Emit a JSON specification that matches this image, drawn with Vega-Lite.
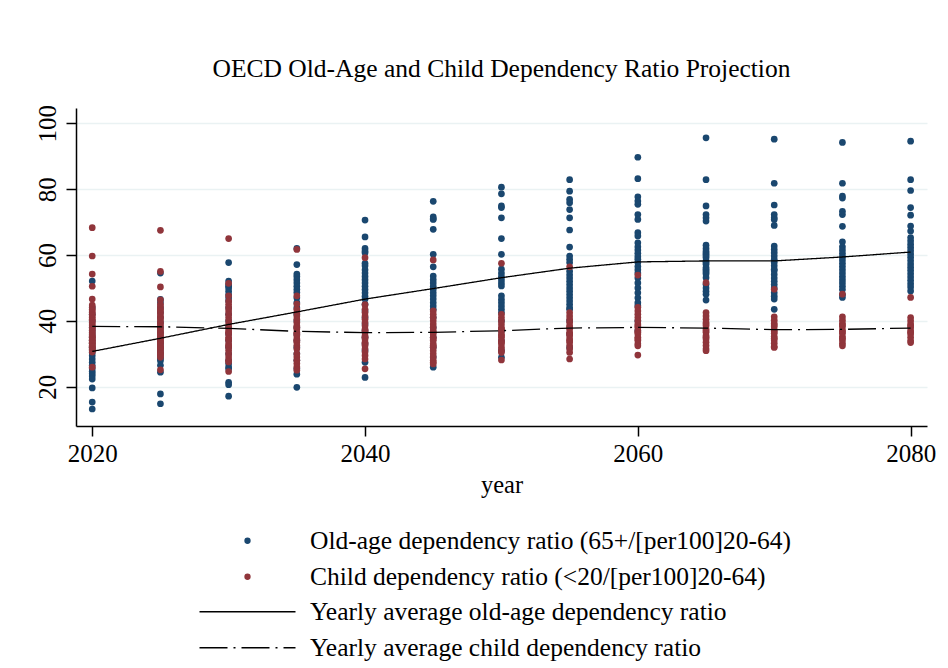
{
"$schema":"https://vega.github.io/schema/vega-lite/v6.json",
"width":851,"height":318,
"autosize":{"type":"none"},
"padding":{"left":76,"top":108,"right":21,"bottom":242},
"background":"white",
"title":{"text":"OECD Old-Age and Child Dependency Ratio Projection","font":"Liberation Serif","fontSize":25.5,"fontWeight":"normal","color":"black","anchor":"middle","baseline":"alphabetic","offset":2},
"config":{"view":{"stroke":null},"font":"Liberation Serif","axis":{"labelFont":"Liberation Serif","titleFont":"Liberation Serif"},"legend":{"labelFont":"Liberation Serif"}},
"datasets":{
"pts":[
{"year":2020,"s":"o","v":52.1},{"year":2020,"s":"o","v":44},{"year":2020,"s":"o","v":42},{"year":2020,"s":"o","v":40},{"year":2020,"s":"o","v":38},{"year":2020,"s":"o","v":37},{"year":2020,"s":"o","v":36},{"year":2020,"s":"o","v":35},{"year":2020,"s":"o","v":34},{"year":2020,"s":"o","v":33},{"year":2020,"s":"o","v":32},{"year":2020,"s":"o","v":31.4},{"year":2020,"s":"o","v":30.4},{"year":2020,"s":"o","v":29.4},{"year":2020,"s":"o","v":28.4},{"year":2020,"s":"o","v":27.4},{"year":2020,"s":"o","v":26.4},{"year":2020,"s":"o","v":25.4},{"year":2020,"s":"o","v":24.6},{"year":2020,"s":"o","v":23.9},{"year":2020,"s":"o","v":23.2},{"year":2020,"s":"o","v":22.3},{"year":2020,"s":"o","v":19.6},{"year":2020,"s":"o","v":15.3},{"year":2020,"s":"o","v":13.2},
{"year":2025,"s":"o","v":54.5},{"year":2025,"s":"o","v":46.5},{"year":2025,"s":"o","v":45.5},{"year":2025,"s":"o","v":44},{"year":2025,"s":"o","v":42.5},{"year":2025,"s":"o","v":41},{"year":2025,"s":"o","v":39.5},{"year":2025,"s":"o","v":38},{"year":2025,"s":"o","v":36.5},{"year":2025,"s":"o","v":35},{"year":2025,"s":"o","v":33.5},{"year":2025,"s":"o","v":33},{"year":2025,"s":"o","v":32},{"year":2025,"s":"o","v":31.5},{"year":2025,"s":"o","v":30.5},{"year":2025,"s":"o","v":30},{"year":2025,"s":"o","v":29},{"year":2025,"s":"o","v":28.5},{"year":2025,"s":"o","v":27.9},{"year":2025,"s":"o","v":26.5},{"year":2025,"s":"o","v":24.4},{"year":2025,"s":"o","v":17.8},{"year":2025,"s":"o","v":14.8},
{"year":2030,"s":"o","v":57.7},{"year":2030,"s":"o","v":52.1},{"year":2030,"s":"o","v":51},{"year":2030,"s":"o","v":50.5},{"year":2030,"s":"o","v":50},{"year":2030,"s":"o","v":49},{"year":2030,"s":"o","v":48},{"year":2030,"s":"o","v":47},{"year":2030,"s":"o","v":46},{"year":2030,"s":"o","v":44},{"year":2030,"s":"o","v":42},{"year":2030,"s":"o","v":40},{"year":2030,"s":"o","v":38},{"year":2030,"s":"o","v":36},{"year":2030,"s":"o","v":34},{"year":2030,"s":"o","v":32},{"year":2030,"s":"o","v":30},{"year":2030,"s":"o","v":28},{"year":2030,"s":"o","v":27},{"year":2030,"s":"o","v":26},{"year":2030,"s":"o","v":25.4},{"year":2030,"s":"o","v":21.3},{"year":2030,"s":"o","v":20.6},{"year":2030,"s":"o","v":17.1},
{"year":2035,"s":"o","v":62},{"year":2035,"s":"o","v":57.1},{"year":2035,"s":"o","v":54.2},{"year":2035,"s":"o","v":53.5},{"year":2035,"s":"o","v":52.5},{"year":2035,"s":"o","v":51.5},{"year":2035,"s":"o","v":50.5},{"year":2035,"s":"o","v":49.5},{"year":2035,"s":"o","v":48.6},{"year":2035,"s":"o","v":47},{"year":2035,"s":"o","v":45.5},{"year":2035,"s":"o","v":44},{"year":2035,"s":"o","v":42},{"year":2035,"s":"o","v":40},{"year":2035,"s":"o","v":38},{"year":2035,"s":"o","v":36},{"year":2035,"s":"o","v":34},{"year":2035,"s":"o","v":32},{"year":2035,"s":"o","v":30},{"year":2035,"s":"o","v":28},{"year":2035,"s":"o","v":25.5},{"year":2035,"s":"o","v":23.8},{"year":2035,"s":"o","v":19.8},
{"year":2040,"s":"o","v":70.6},{"year":2040,"s":"o","v":65.5},{"year":2040,"s":"o","v":62},{"year":2040,"s":"o","v":61.2},{"year":2040,"s":"o","v":60.7},{"year":2040,"s":"o","v":57.5},{"year":2040,"s":"o","v":56.7},{"year":2040,"s":"o","v":55.5},{"year":2040,"s":"o","v":54.5},{"year":2040,"s":"o","v":53.5},{"year":2040,"s":"o","v":52.5},{"year":2040,"s":"o","v":51.5},{"year":2040,"s":"o","v":50.5},{"year":2040,"s":"o","v":49.5},{"year":2040,"s":"o","v":48.5},{"year":2040,"s":"o","v":47.5},{"year":2040,"s":"o","v":46.6},{"year":2040,"s":"o","v":45},{"year":2040,"s":"o","v":43},{"year":2040,"s":"o","v":41},{"year":2040,"s":"o","v":39},{"year":2040,"s":"o","v":37},{"year":2040,"s":"o","v":35},{"year":2040,"s":"o","v":33},{"year":2040,"s":"o","v":31},{"year":2040,"s":"o","v":27.4},{"year":2040,"s":"o","v":22.8},
{"year":2045,"s":"o","v":76.3},{"year":2045,"s":"o","v":71.6},{"year":2045,"s":"o","v":71},{"year":2045,"s":"o","v":70.8},{"year":2045,"s":"o","v":67.8},{"year":2045,"s":"o","v":60.2},{"year":2045,"s":"o","v":56.4},{"year":2045,"s":"o","v":53.6},{"year":2045,"s":"o","v":52.5},{"year":2045,"s":"o","v":51.5},{"year":2045,"s":"o","v":50.5},{"year":2045,"s":"o","v":49.5},{"year":2045,"s":"o","v":48.5},{"year":2045,"s":"o","v":47.6},{"year":2045,"s":"o","v":46.6},{"year":2045,"s":"o","v":45.5},{"year":2045,"s":"o","v":44.5},{"year":2045,"s":"o","v":43.5},{"year":2045,"s":"o","v":41},{"year":2045,"s":"o","v":38},{"year":2045,"s":"o","v":35},{"year":2045,"s":"o","v":32},{"year":2045,"s":"o","v":29},{"year":2045,"s":"o","v":25.9},
{"year":2050,"s":"o","v":80.6},{"year":2050,"s":"o","v":78.6},{"year":2050,"s":"o","v":74.9},{"year":2050,"s":"o","v":74.4},{"year":2050,"s":"o","v":71.3},{"year":2050,"s":"o","v":65},{"year":2050,"s":"o","v":60.2},{"year":2050,"s":"o","v":55.7},{"year":2050,"s":"o","v":54.5},{"year":2050,"s":"o","v":53.5},{"year":2050,"s":"o","v":52.5},{"year":2050,"s":"o","v":51.5},{"year":2050,"s":"o","v":50.6},{"year":2050,"s":"o","v":47.6},{"year":2050,"s":"o","v":46.5},{"year":2050,"s":"o","v":45.5},{"year":2050,"s":"o","v":44.5},{"year":2050,"s":"o","v":43.5},{"year":2050,"s":"o","v":42.5},{"year":2050,"s":"o","v":40},{"year":2050,"s":"o","v":37},{"year":2050,"s":"o","v":34},{"year":2050,"s":"o","v":31},{"year":2050,"s":"o","v":28.9},
{"year":2055,"s":"o","v":82.9},{"year":2055,"s":"o","v":79.4},{"year":2055,"s":"o","v":76.9},{"year":2055,"s":"o","v":75.9},{"year":2055,"s":"o","v":73.8},{"year":2055,"s":"o","v":71.3},{"year":2055,"s":"o","v":67.6},{"year":2055,"s":"o","v":62.4},{"year":2055,"s":"o","v":59.7},{"year":2055,"s":"o","v":58.7},{"year":2055,"s":"o","v":57.7},{"year":2055,"s":"o","v":55.1},{"year":2055,"s":"o","v":54},{"year":2055,"s":"o","v":53},{"year":2055,"s":"o","v":52},{"year":2055,"s":"o","v":51},{"year":2055,"s":"o","v":50},{"year":2055,"s":"o","v":49},{"year":2055,"s":"o","v":48},{"year":2055,"s":"o","v":47},{"year":2055,"s":"o","v":46},{"year":2055,"s":"o","v":45},{"year":2055,"s":"o","v":44},{"year":2055,"s":"o","v":43.5},{"year":2055,"s":"o","v":40},{"year":2055,"s":"o","v":36},{"year":2055,"s":"o","v":31.9},
{"year":2060,"s":"o","v":89.7},{"year":2060,"s":"o","v":83.2},{"year":2060,"s":"o","v":77.7},{"year":2060,"s":"o","v":76.4},{"year":2060,"s":"o","v":75.4},{"year":2060,"s":"o","v":72.3},{"year":2060,"s":"o","v":70.8},{"year":2060,"s":"o","v":66.8},{"year":2060,"s":"o","v":65.8},{"year":2060,"s":"o","v":63.7},{"year":2060,"s":"o","v":62.5},{"year":2060,"s":"o","v":61.5},{"year":2060,"s":"o","v":60.5},{"year":2060,"s":"o","v":59.5},{"year":2060,"s":"o","v":58.7},{"year":2060,"s":"o","v":57.7},{"year":2060,"s":"o","v":56.5},{"year":2060,"s":"o","v":55.5},{"year":2060,"s":"o","v":54.5},{"year":2060,"s":"o","v":53},{"year":2060,"s":"o","v":51.5},{"year":2060,"s":"o","v":50},{"year":2060,"s":"o","v":48.5},{"year":2060,"s":"o","v":47},{"year":2060,"s":"o","v":45.5},{"year":2060,"s":"o","v":44.6},{"year":2060,"s":"o","v":40},{"year":2060,"s":"o","v":37},
{"year":2065,"s":"o","v":95.6},{"year":2065,"s":"o","v":82.9},{"year":2065,"s":"o","v":74.9},{"year":2065,"s":"o","v":72.3},{"year":2065,"s":"o","v":71.3},{"year":2065,"s":"o","v":70.3},{"year":2065,"s":"o","v":63},{"year":2065,"s":"o","v":62},{"year":2065,"s":"o","v":61.2},{"year":2065,"s":"o","v":60.7},{"year":2065,"s":"o","v":60.2},{"year":2065,"s":"o","v":59.7},{"year":2065,"s":"o","v":59.2},{"year":2065,"s":"o","v":58.2},{"year":2065,"s":"o","v":57.7},{"year":2065,"s":"o","v":57.2},{"year":2065,"s":"o","v":56.2},{"year":2065,"s":"o","v":55.7},{"year":2065,"s":"o","v":55.2},{"year":2065,"s":"o","v":54.7},{"year":2065,"s":"o","v":54.2},{"year":2065,"s":"o","v":53.1},{"year":2065,"s":"o","v":51.1},{"year":2065,"s":"o","v":50},{"year":2065,"s":"o","v":49},{"year":2065,"s":"o","v":48.1},{"year":2065,"s":"o","v":46.3},
{"year":2070,"s":"o","v":95.2},{"year":2070,"s":"o","v":81.8},{"year":2070,"s":"o","v":75.2},{"year":2070,"s":"o","v":72.3},{"year":2070,"s":"o","v":71.3},{"year":2070,"s":"o","v":70.8},{"year":2070,"s":"o","v":69},{"year":2070,"s":"o","v":62.7},{"year":2070,"s":"o","v":61.7},{"year":2070,"s":"o","v":60.7},{"year":2070,"s":"o","v":59.7},{"year":2070,"s":"o","v":58.7},{"year":2070,"s":"o","v":57.7},{"year":2070,"s":"o","v":56.7},{"year":2070,"s":"o","v":55.7},{"year":2070,"s":"o","v":55.2},{"year":2070,"s":"o","v":54.1},{"year":2070,"s":"o","v":53},{"year":2070,"s":"o","v":52},{"year":2070,"s":"o","v":51},{"year":2070,"s":"o","v":50},{"year":2070,"s":"o","v":48.5},{"year":2070,"s":"o","v":47.5},{"year":2070,"s":"o","v":46.6},{"year":2070,"s":"o","v":43.5},
{"year":2075,"s":"o","v":94.2},{"year":2075,"s":"o","v":81.8},{"year":2075,"s":"o","v":77.9},{"year":2075,"s":"o","v":77.3},{"year":2075,"s":"o","v":73.3},{"year":2075,"s":"o","v":72.3},{"year":2075,"s":"o","v":68.7},{"year":2075,"s":"o","v":64},{"year":2075,"s":"o","v":62.5},{"year":2075,"s":"o","v":61.5},{"year":2075,"s":"o","v":60.5},{"year":2075,"s":"o","v":59.5},{"year":2075,"s":"o","v":58.5},{"year":2075,"s":"o","v":57.5},{"year":2075,"s":"o","v":56.5},{"year":2075,"s":"o","v":55.5},{"year":2075,"s":"o","v":54.5},{"year":2075,"s":"o","v":53.5},{"year":2075,"s":"o","v":52.5},{"year":2075,"s":"o","v":51.5},{"year":2075,"s":"o","v":50.5},{"year":2075,"s":"o","v":49.5},{"year":2075,"s":"o","v":48},{"year":2075,"s":"o","v":47.1},
{"year":2080,"s":"o","v":94.6},{"year":2080,"s":"o","v":82.9},{"year":2080,"s":"o","v":79.6},{"year":2080,"s":"o","v":74.4},{"year":2080,"s":"o","v":72.1},{"year":2080,"s":"o","v":68.8},{"year":2080,"s":"o","v":67.3},{"year":2080,"s":"o","v":65.3},{"year":2080,"s":"o","v":64.3},{"year":2080,"s":"o","v":63.3},{"year":2080,"s":"o","v":62.3},{"year":2080,"s":"o","v":61.3},{"year":2080,"s":"o","v":60.3},{"year":2080,"s":"o","v":59.3},{"year":2080,"s":"o","v":58.3},{"year":2080,"s":"o","v":57.3},{"year":2080,"s":"o","v":56.3},{"year":2080,"s":"o","v":55.3},{"year":2080,"s":"o","v":54.3},{"year":2080,"s":"o","v":53.3},{"year":2080,"s":"o","v":52.3},{"year":2080,"s":"o","v":51.3},{"year":2080,"s":"o","v":50.3},{"year":2080,"s":"o","v":49.1},
{"year":2020,"s":"c","v":68.3},{"year":2020,"s":"c","v":59.7},{"year":2020,"s":"c","v":54.2},{"year":2020,"s":"c","v":50.5},{"year":2020,"s":"c","v":46.6},{"year":2020,"s":"c","v":44.8},{"year":2020,"s":"c","v":44.2},{"year":2020,"s":"c","v":43.5},{"year":2020,"s":"c","v":43},{"year":2020,"s":"c","v":42.5},{"year":2020,"s":"c","v":42},{"year":2020,"s":"c","v":41.5},{"year":2020,"s":"c","v":41},{"year":2020,"s":"c","v":40.5},{"year":2020,"s":"c","v":40},{"year":2020,"s":"c","v":39.5},{"year":2020,"s":"c","v":39},{"year":2020,"s":"c","v":38.5},{"year":2020,"s":"c","v":38},{"year":2020,"s":"c","v":37.5},{"year":2020,"s":"c","v":37},{"year":2020,"s":"c","v":36.5},{"year":2020,"s":"c","v":36},{"year":2020,"s":"c","v":35.5},{"year":2020,"s":"c","v":35.2},{"year":2020,"s":"c","v":35},{"year":2020,"s":"c","v":34.5},{"year":2020,"s":"c","v":34.2},{"year":2020,"s":"c","v":34},{"year":2020,"s":"c","v":33.5},{"year":2020,"s":"c","v":33.2},{"year":2020,"s":"c","v":33},{"year":2020,"s":"c","v":32.5},{"year":2020,"s":"c","v":32.2},{"year":2020,"s":"c","v":32},{"year":2020,"s":"c","v":31.5},{"year":2020,"s":"c","v":31.2},{"year":2020,"s":"c","v":31},{"year":2020,"s":"c","v":30.5},{"year":2020,"s":"c","v":25.9},
{"year":2025,"s":"c","v":67.5},{"year":2025,"s":"c","v":55},{"year":2025,"s":"c","v":50.3},{"year":2025,"s":"c","v":46.4},{"year":2025,"s":"c","v":45},{"year":2025,"s":"c","v":44.3},{"year":2025,"s":"c","v":43.5},{"year":2025,"s":"c","v":43},{"year":2025,"s":"c","v":42.3},{"year":2025,"s":"c","v":41.5},{"year":2025,"s":"c","v":41},{"year":2025,"s":"c","v":40.3},{"year":2025,"s":"c","v":39.5},{"year":2025,"s":"c","v":39},{"year":2025,"s":"c","v":38.3},{"year":2025,"s":"c","v":37.5},{"year":2025,"s":"c","v":37},{"year":2025,"s":"c","v":36.3},{"year":2025,"s":"c","v":36},{"year":2025,"s":"c","v":35.5},{"year":2025,"s":"c","v":35},{"year":2025,"s":"c","v":34.3},{"year":2025,"s":"c","v":34},{"year":2025,"s":"c","v":33.5},{"year":2025,"s":"c","v":33},{"year":2025,"s":"c","v":32.3},{"year":2025,"s":"c","v":32},{"year":2025,"s":"c","v":31.5},{"year":2025,"s":"c","v":31},{"year":2025,"s":"c","v":30.3},{"year":2025,"s":"c","v":30},{"year":2025,"s":"c","v":29.5},{"year":2025,"s":"c","v":28.9},{"year":2025,"s":"c","v":25.1},
{"year":2030,"s":"c","v":65},{"year":2030,"s":"c","v":51.4},{"year":2030,"s":"c","v":47.6},{"year":2030,"s":"c","v":46},{"year":2030,"s":"c","v":45},{"year":2030,"s":"c","v":44},{"year":2030,"s":"c","v":43},{"year":2030,"s":"c","v":42},{"year":2030,"s":"c","v":41},{"year":2030,"s":"c","v":40},{"year":2030,"s":"c","v":39},{"year":2030,"s":"c","v":38},{"year":2030,"s":"c","v":37},{"year":2030,"s":"c","v":36.5},{"year":2030,"s":"c","v":36},{"year":2030,"s":"c","v":35},{"year":2030,"s":"c","v":34.5},{"year":2030,"s":"c","v":34},{"year":2030,"s":"c","v":33},{"year":2030,"s":"c","v":32.5},{"year":2030,"s":"c","v":32},{"year":2030,"s":"c","v":31},{"year":2030,"s":"c","v":30},{"year":2030,"s":"c","v":29},{"year":2030,"s":"c","v":28},{"year":2030,"s":"c","v":27.5},{"year":2030,"s":"c","v":24.6},
{"year":2035,"s":"c","v":61.7},{"year":2035,"s":"c","v":47.6},{"year":2035,"s":"c","v":45.1},{"year":2035,"s":"c","v":43.5},{"year":2035,"s":"c","v":42.5},{"year":2035,"s":"c","v":41.5},{"year":2035,"s":"c","v":40.5},{"year":2035,"s":"c","v":39.5},{"year":2035,"s":"c","v":38.5},{"year":2035,"s":"c","v":38},{"year":2035,"s":"c","v":37.5},{"year":2035,"s":"c","v":36.5},{"year":2035,"s":"c","v":36},{"year":2035,"s":"c","v":35.5},{"year":2035,"s":"c","v":34.5},{"year":2035,"s":"c","v":34},{"year":2035,"s":"c","v":33.5},{"year":2035,"s":"c","v":32.5},{"year":2035,"s":"c","v":31.5},{"year":2035,"s":"c","v":30},{"year":2035,"s":"c","v":29},{"year":2035,"s":"c","v":28},{"year":2035,"s":"c","v":27},{"year":2035,"s":"c","v":26},{"year":2035,"s":"c","v":25},
{"year":2040,"s":"c","v":59.2},{"year":2040,"s":"c","v":44.9},{"year":2040,"s":"c","v":43.5},{"year":2040,"s":"c","v":42.5},{"year":2040,"s":"c","v":41.5},{"year":2040,"s":"c","v":40.5},{"year":2040,"s":"c","v":39.5},{"year":2040,"s":"c","v":38.5},{"year":2040,"s":"c","v":37.5},{"year":2040,"s":"c","v":37},{"year":2040,"s":"c","v":36.5},{"year":2040,"s":"c","v":35.5},{"year":2040,"s":"c","v":35},{"year":2040,"s":"c","v":34.5},{"year":2040,"s":"c","v":33.5},{"year":2040,"s":"c","v":33},{"year":2040,"s":"c","v":32.5},{"year":2040,"s":"c","v":31.5},{"year":2040,"s":"c","v":30.5},{"year":2040,"s":"c","v":29.5},{"year":2040,"s":"c","v":28.4},{"year":2040,"s":"c","v":25.4},
{"year":2045,"s":"c","v":58.5},{"year":2045,"s":"c","v":43},{"year":2045,"s":"c","v":42},{"year":2045,"s":"c","v":41},{"year":2045,"s":"c","v":40},{"year":2045,"s":"c","v":39},{"year":2045,"s":"c","v":38},{"year":2045,"s":"c","v":37},{"year":2045,"s":"c","v":36.5},{"year":2045,"s":"c","v":36},{"year":2045,"s":"c","v":35},{"year":2045,"s":"c","v":34.5},{"year":2045,"s":"c","v":34},{"year":2045,"s":"c","v":33},{"year":2045,"s":"c","v":32.5},{"year":2045,"s":"c","v":32},{"year":2045,"s":"c","v":31},{"year":2045,"s":"c","v":30},{"year":2045,"s":"c","v":29},{"year":2045,"s":"c","v":28},{"year":2045,"s":"c","v":27.4},{"year":2045,"s":"c","v":26.9},
{"year":2050,"s":"c","v":57.5},{"year":2050,"s":"c","v":42},{"year":2050,"s":"c","v":41},{"year":2050,"s":"c","v":40},{"year":2050,"s":"c","v":39},{"year":2050,"s":"c","v":38},{"year":2050,"s":"c","v":37.5},{"year":2050,"s":"c","v":37},{"year":2050,"s":"c","v":36},{"year":2050,"s":"c","v":35.5},{"year":2050,"s":"c","v":35},{"year":2050,"s":"c","v":34},{"year":2050,"s":"c","v":33.5},{"year":2050,"s":"c","v":33},{"year":2050,"s":"c","v":32},{"year":2050,"s":"c","v":31},{"year":2050,"s":"c","v":30.4},{"year":2050,"s":"c","v":28.1},
{"year":2055,"s":"c","v":56.4},{"year":2055,"s":"c","v":42.5},{"year":2055,"s":"c","v":41.5},{"year":2055,"s":"c","v":40.5},{"year":2055,"s":"c","v":39.5},{"year":2055,"s":"c","v":38.5},{"year":2055,"s":"c","v":38},{"year":2055,"s":"c","v":37.5},{"year":2055,"s":"c","v":36.5},{"year":2055,"s":"c","v":36},{"year":2055,"s":"c","v":35.5},{"year":2055,"s":"c","v":34.5},{"year":2055,"s":"c","v":34},{"year":2055,"s":"c","v":33.5},{"year":2055,"s":"c","v":32.5},{"year":2055,"s":"c","v":31.5},{"year":2055,"s":"c","v":30.4},{"year":2055,"s":"c","v":28.4},
{"year":2060,"s":"c","v":53.9},{"year":2060,"s":"c","v":44.1},{"year":2060,"s":"c","v":43},{"year":2060,"s":"c","v":42},{"year":2060,"s":"c","v":41},{"year":2060,"s":"c","v":40},{"year":2060,"s":"c","v":39},{"year":2060,"s":"c","v":38.5},{"year":2060,"s":"c","v":38},{"year":2060,"s":"c","v":37},{"year":2060,"s":"c","v":36.5},{"year":2060,"s":"c","v":36},{"year":2060,"s":"c","v":35},{"year":2060,"s":"c","v":34.5},{"year":2060,"s":"c","v":34},{"year":2060,"s":"c","v":33},{"year":2060,"s":"c","v":32.4},{"year":2060,"s":"c","v":29.6},
{"year":2065,"s":"c","v":51.6},{"year":2065,"s":"c","v":42.5},{"year":2065,"s":"c","v":41.5},{"year":2065,"s":"c","v":40.5},{"year":2065,"s":"c","v":39.5},{"year":2065,"s":"c","v":39},{"year":2065,"s":"c","v":38.5},{"year":2065,"s":"c","v":37.5},{"year":2065,"s":"c","v":37},{"year":2065,"s":"c","v":36.5},{"year":2065,"s":"c","v":35.5},{"year":2065,"s":"c","v":35},{"year":2065,"s":"c","v":34.5},{"year":2065,"s":"c","v":33.5},{"year":2065,"s":"c","v":32.5},{"year":2065,"s":"c","v":31.5},{"year":2065,"s":"c","v":30.9},
{"year":2070,"s":"c","v":49.6},{"year":2070,"s":"c","v":41.2},{"year":2070,"s":"c","v":40.2},{"year":2070,"s":"c","v":39.2},{"year":2070,"s":"c","v":38.7},{"year":2070,"s":"c","v":38.2},{"year":2070,"s":"c","v":37.2},{"year":2070,"s":"c","v":36.7},{"year":2070,"s":"c","v":36.2},{"year":2070,"s":"c","v":35.2},{"year":2070,"s":"c","v":34.7},{"year":2070,"s":"c","v":34.2},{"year":2070,"s":"c","v":33.2},{"year":2070,"s":"c","v":32.2},{"year":2070,"s":"c","v":31.9},
{"year":2075,"s":"c","v":48.1},{"year":2075,"s":"c","v":41.2},{"year":2075,"s":"c","v":40.2},{"year":2075,"s":"c","v":39.2},{"year":2075,"s":"c","v":38.7},{"year":2075,"s":"c","v":38.2},{"year":2075,"s":"c","v":37.2},{"year":2075,"s":"c","v":36.7},{"year":2075,"s":"c","v":36.2},{"year":2075,"s":"c","v":35.2},{"year":2075,"s":"c","v":34.7},{"year":2075,"s":"c","v":34.2},{"year":2075,"s":"c","v":33.2},{"year":2075,"s":"c","v":32.4},
{"year":2080,"s":"c","v":47.1},{"year":2080,"s":"c","v":41},{"year":2080,"s":"c","v":40},{"year":2080,"s":"c","v":39},{"year":2080,"s":"c","v":38.5},{"year":2080,"s":"c","v":38},{"year":2080,"s":"c","v":37},{"year":2080,"s":"c","v":36.5},{"year":2080,"s":"c","v":36},{"year":2080,"s":"c","v":35},{"year":2080,"s":"c","v":34},{"year":2080,"s":"c","v":33.4}
],
"avg":[
{"year":2020,"s":"ao","v":30.7},{"year":2025,"s":"ao","v":34.7},{"year":2030,"s":"ao","v":38.9},{"year":2035,"s":"ao","v":42.7},{"year":2040,"s":"ao","v":46.6},{"year":2045,"s":"ao","v":49.8},{"year":2050,"s":"ao","v":53.1},{"year":2055,"s":"ao","v":56.0},{"year":2060,"s":"ao","v":57.9},{"year":2065,"s":"ao","v":58.2},{"year":2070,"s":"ao","v":58.2},{"year":2075,"s":"ao","v":59.4},{"year":2080,"s":"ao","v":60.9},
{"year":2020,"s":"ac","v":38.3},{"year":2025,"s":"ac","v":38.2},{"year":2030,"s":"ac","v":37.7},{"year":2035,"s":"ac","v":36.8},{"year":2040,"s":"ac","v":36.4},{"year":2045,"s":"ac","v":36.5},{"year":2050,"s":"ac","v":37.0},{"year":2055,"s":"ac","v":37.8},{"year":2060,"s":"ac","v":38.0},{"year":2065,"s":"ac","v":37.8},{"year":2070,"s":"ac","v":37.3},{"year":2075,"s":"ac","v":37.4},{"year":2080,"s":"ac","v":37.8}
]
},
"encoding":{
"x":{"field":"year","type":"quantitative","scale":{"domain":[2018.81,2081.2],"nice":false,"zero":false},
"axis":{"title":"year","values":[2020,2040,2060,2080],"format":"d","grid":false,"tickSize":10,"tickWidth":1.5,"tickColor":"black","domainColor":"black","domainWidth":1.5,"labelFontSize":25,"labelColor":"black","labelPadding":5,"labelFont":"Liberation Serif","titleFont":"Liberation Serif","titleFontSize":24.5,"titleFontWeight":"normal","titleColor":"black","titlePadding":7}},
"y":{"field":"v","type":"quantitative","scale":{"domain":[8.04,104.67],"nice":false,"zero":false},
"axis":{"title":null,"values":[20,40,60,80,100],"grid":true,"gridColor":"#eaf2f3","gridWidth":1.5,"tickSize":10,"tickWidth":1.5,"tickColor":"black","domainColor":"black","domainWidth":1.5,"labelFontSize":25,"labelColor":"black","labelAngle":270,"labelAlign":"center","labelBaseline":"bottom","labelPadding":6,"labelFont":"Liberation Serif"}}
},
"layer":[
{"data":{"name":"pts"},
"mark":{"type":"point","filled":true,"size":45,"opacity":1},
"encoding":{"color":{"field":"s","type":"nominal","scale":{"domain":["o","c"],"range":["#1a476f","#90353b"]},
"legend":{"orient":"none","legendX":158.75,"legendY":420,"title":null,"padding":0,"labelFontSize":25.5,"labelFont":"Liberation Serif","labelColor":"black","labelLimit":0,"labelOffset":49.75,"rowPadding":9,"symbolType":"circle","symbolSize":40,"symbolStrokeWidth":0,
"labelExpr":"datum.label == 'o' ? 'Old-age dependency ratio (65+/[per100]20-64)' : 'Child dependency ratio (<20/[per100]20-64)'"}}}},
{"data":{"name":"avg"},
"mark":{"type":"line","color":"black","strokeWidth":1.3},
"encoding":{"strokeDash":{"field":"s","type":"nominal","scale":{"domain":["ao","ac"],"range":[[1,0],[28,6,2,6]]},
"legend":{"orient":"none","legendX":158.75,"legendY":491,"title":null,"padding":0,"labelFontSize":25.5,"labelFont":"Liberation Serif","labelColor":"black","labelLimit":0,"labelOffset":49.75,"rowPadding":9,"symbolType":"M-8,0H8","symbolSize":144,"symbolStrokeWidth":1.3,"symbolStrokeColor":"black","symbolFillColor":"transparent",
"labelExpr":"datum.label == 'ao' ? 'Yearly average old-age dependency ratio' : 'Yearly average child dependency ratio'"}}}}
]
}
